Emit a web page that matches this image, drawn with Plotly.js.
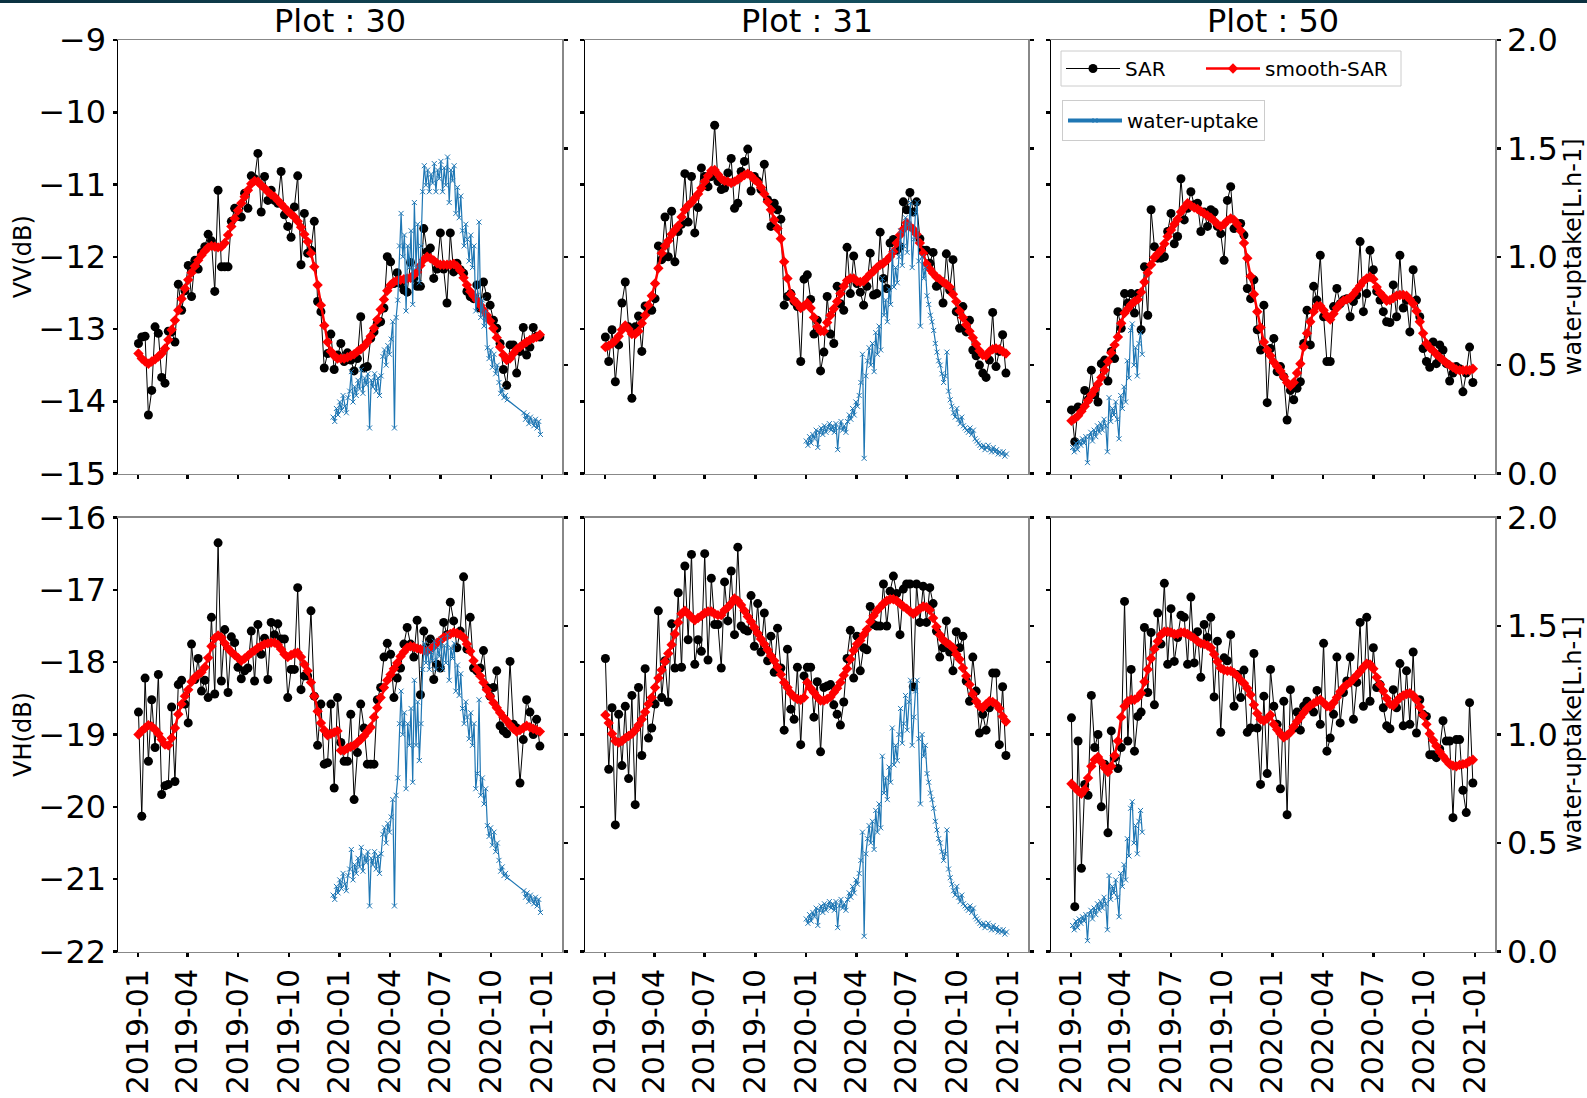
<!DOCTYPE html>
<html><head><meta charset="utf-8">
<script src="https://cdn.plot.ly/plotly-3.0.1.min.js"></script>
<style>
html,body{margin:0;padding:0;background:#fff;}
#topbar{position:absolute;left:0;top:0;width:1587px;height:3px;background:linear-gradient(90deg,#0b3140,#15505f 50%,#0b3140);z-index:10;}
#chart{width:1587px;height:1098px;}
</style>
</head><body><div id="topbar"></div><div id="chart"></div>
<script>
// ---------------- data ----------------
const plotTitles = ["Plot : 30", "Plot : 31", "Plot : 50"];
const polTitles = ["VV(dB)", "VH(dB)"];
const wuTitle = "water-uptake[L.h-1]";
const xTickStart = "2019-01-01";

const sarDates = [
"2019-01-02","2019-01-08","2019-01-14","2019-01-20","2019-01-26","2019-02-01","2019-02-07","2019-02-13","2019-02-19","2019-02-25",
"2019-03-03","2019-03-09","2019-03-15","2019-03-21","2019-03-27","2019-04-02","2019-04-08","2019-04-14","2019-04-20","2019-04-26",
"2019-05-02","2019-05-08","2019-05-14","2019-05-20","2019-05-26","2019-06-01","2019-06-07","2019-06-13","2019-06-19","2019-06-25",
"2019-07-01","2019-07-07","2019-07-13","2019-07-19","2019-07-25","2019-07-31","2019-08-06","2019-08-12","2019-08-18","2019-08-24",
"2019-08-30","2019-09-05","2019-09-11","2019-09-17","2019-09-23","2019-09-29","2019-10-05","2019-10-11","2019-10-17","2019-10-23",
"2019-10-29","2019-11-04","2019-11-10","2019-11-16","2019-11-22","2019-11-28","2019-12-04","2019-12-10","2019-12-16","2019-12-22",
"2019-12-28","2020-01-03","2020-01-09","2020-01-15","2020-01-21","2020-01-27","2020-02-02","2020-02-08","2020-02-14","2020-02-20",
"2020-02-26","2020-03-03","2020-03-09","2020-03-15","2020-03-21","2020-03-27","2020-04-02","2020-04-08","2020-04-14","2020-04-20",
"2020-04-26","2020-05-02","2020-05-08","2020-05-14","2020-05-20","2020-05-26","2020-06-01","2020-06-07","2020-06-13","2020-06-19",
"2020-06-25","2020-07-01","2020-07-07","2020-07-13","2020-07-19","2020-07-25","2020-07-31","2020-08-06","2020-08-12","2020-08-18",
"2020-08-24","2020-08-30","2020-09-05","2020-09-11","2020-09-17","2020-09-23","2020-09-29","2020-10-05","2020-10-11","2020-10-17",
"2020-10-23","2020-10-29","2020-11-04","2020-11-10","2020-11-16","2020-11-22","2020-11-28","2020-12-04","2020-12-10","2020-12-16",
"2020-12-22","2020-12-28"];

// Plot 30
const vv30 = [
-13.20,-13.11,-13.10,-14.19,-13.85,-12.97,-13.06,-13.67,-13.75,-13.03,
-13.04,-13.18,-12.38,-12.74,-12.47,-12.12,-12.55,-12.05,-12.17,-11.94,
-11.86,-11.69,-11.78,-12.48,-11.08,-12.14,-12.14,-12.14,-11.51,-11.33,
-11.44,-11.45,-11.12,-11.33,-10.88,-10.92,-10.57,-11.38,-10.89,-11.22,
-11.08,-11.22,-11.26,-10.82,-11.42,-11.58,-11.73,-11.31,-10.88,-12.11,
-11.40,-11.95,-11.91,-11.51,-12.62,-12.76,-13.54,-13.34,-13.07,-13.56,
-13.36,-13.20,-13.45,-13.33,-13.43,-13.58,-13.41,-12.83,-13.54,-13.52,
-13.13,-13.04,-12.92,-12.90,-12.71,-12.00,-12.07,-12.37,-12.22,-12.37,
-12.46,-12.49,-12.08,-12.30,-12.41,-12.41,-11.61,-11.93,-11.88,-12.30,
-12.17,-11.67,-12.17,-12.64,-11.67,-12.21,-12.09,-12.18,-12.23,-12.48,
-12.55,-12.58,-12.39,-12.71,-12.35,-12.55,-12.67,-12.88,-12.99,-13.20,
-13.56,-13.78,-13.22,-13.22,-13.61,-13.31,-12.98,-13.36,-13.25,-12.98,
-13.10,-13.11];
const vv30s = [
-13.34,-13.41,-13.45,-13.48,-13.45,-13.42,-13.38,-13.34,-13.27,-13.15,
-13.01,-12.88,-12.74,-12.58,-12.44,-12.32,-12.22,-12.13,-12.05,-11.98,
-11.92,-11.87,-11.85,-11.86,-11.87,-11.86,-11.81,-11.70,-11.58,-11.47,
-11.36,-11.26,-11.17,-11.08,-10.99,-10.95,-10.96,-11.01,-11.05,-11.10,
-11.14,-11.17,-11.22,-11.27,-11.32,-11.37,-11.41,-11.45,-11.51,-11.59,
-11.69,-11.79,-11.95,-12.14,-12.39,-12.67,-12.95,-13.18,-13.31,-13.37,
-13.41,-13.41,-13.41,-13.39,-13.37,-13.35,-13.31,-13.28,-13.24,-13.18,
-13.10,-12.99,-12.87,-12.73,-12.59,-12.47,-12.39,-12.35,-12.33,-12.32,
-12.31,-12.30,-12.29,-12.25,-12.21,-12.12,-12.04,-12.00,-12.02,-12.05,
-12.09,-12.11,-12.11,-12.11,-12.11,-12.10,-12.13,-12.19,-12.29,-12.39,
-12.48,-12.54,-12.60,-12.67,-12.74,-12.81,-12.89,-12.99,-13.12,-13.25,
-13.36,-13.43,-13.41,-13.34,-13.28,-13.25,-13.21,-13.18,-13.15,-13.13,
-13.11,-13.08];
const vh30 = [
-18.69,-20.13,-18.22,-19.37,-18.52,-19.18,-18.17,-19.83,-19.71,-19.69,
-18.62,-19.65,-18.31,-18.25,-18.58,-18.84,-17.75,-18.24,-17.95,-18.40,
-18.25,-18.49,-17.38,-18.44,-16.35,-18.26,-17.55,-18.42,-17.65,-17.73,
-18.07,-18.23,-18.12,-18.08,-17.57,-18.26,-17.48,-17.89,-17.67,-18.24,
-17.45,-17.62,-17.47,-17.68,-17.68,-18.49,-18.10,-18.10,-16.97,-18.38,
-18.19,-18.19,-17.29,-18.47,-19.15,-18.58,-19.41,-19.39,-18.58,-19.74,
-18.49,-19.11,-19.37,-19.37,-18.72,-19.90,-19.25,-18.58,-18.91,-19.41,
-19.41,-19.41,-18.52,-18.35,-17.93,-17.74,-17.89,-18.49,-18.22,-18.08,
-17.75,-17.52,-17.75,-17.93,-17.42,-18.45,-17.57,-17.80,-17.68,-18.24,
-18.03,-18.08,-17.45,-17.62,-17.17,-17.43,-17.80,-17.57,-16.82,-17.82,
-17.38,-18.08,-18.12,-18.08,-17.84,-18.35,-18.47,-18.35,-18.12,-18.88,
-18.95,-18.99,-17.99,-18.86,-18.91,-19.67,-19.07,-18.52,-18.69,-19.00,
-18.79,-19.16];
const vh30s = [
-19.00,-18.95,-18.91,-18.87,-18.89,-18.93,-18.99,-19.07,-19.14,-19.15,
-19.05,-18.91,-18.72,-18.58,-18.47,-18.38,-18.27,-18.21,-18.17,-18.14,
-18.07,-17.94,-17.78,-17.67,-17.63,-17.66,-17.74,-17.81,-17.86,-17.90,
-17.94,-17.98,-17.95,-17.91,-17.87,-17.84,-17.80,-17.78,-17.75,-17.74,
-17.73,-17.73,-17.76,-17.82,-17.89,-17.93,-17.90,-17.88,-17.87,-17.93,
-18.03,-18.12,-18.28,-18.47,-18.68,-18.84,-18.94,-19.01,-18.99,-18.97,
-18.95,-19.22,-19.22,-19.19,-19.17,-19.15,-19.11,-19.07,-19.02,-18.96,
-18.90,-18.76,-18.63,-18.49,-18.35,-18.25,-18.17,-18.09,-18.01,-17.92,
-17.86,-17.80,-17.78,-17.79,-17.81,-17.82,-17.84,-17.85,-17.82,-17.78,
-17.73,-17.70,-17.66,-17.64,-17.61,-17.59,-17.60,-17.62,-17.66,-17.75,
-17.85,-17.98,-18.10,-18.19,-18.28,-18.38,-18.47,-18.56,-18.63,-18.70,
-18.76,-18.81,-18.87,-18.92,-18.96,-18.94,-18.91,-18.88,-18.90,-18.92,
-18.94,-18.96];

// Plot 31
const vv31 = [
-13.11,-13.45,-13.01,-13.73,-13.22,-12.64,-12.35,-12.97,-13.96,-12.97,
-12.82,-13.31,-12.68,-12.74,-12.74,-12.58,-11.85,-12.04,-11.45,-12.00,
-11.37,-12.07,-11.65,-11.55,-10.85,-11.52,-10.89,-11.67,-11.32,-10.77,
-10.89,-11.03,-10.89,-10.18,-10.96,-11.07,-11.05,-10.84,-10.64,-11.33,
-11.26,-10.82,-10.68,-10.51,-11.09,-10.89,-10.95,-11.07,-10.72,-11.21,
-11.58,-11.26,-11.35,-11.48,-12.67,-12.55,-12.51,-12.62,-12.69,-13.45,
-12.31,-12.25,-12.59,-13.07,-12.88,-13.58,-13.32,-12.55,-13.07,-13.20,
-12.41,-12.65,-12.74,-11.87,-12.51,-11.99,-12.37,-12.49,-12.67,-12.41,
-11.95,-12.53,-12.51,-11.66,-12.30,-12.44,-11.81,-11.76,-11.91,-11.86,
-11.24,-11.35,-11.11,-11.38,-11.24,-11.75,-11.91,-11.91,-12.09,-11.94,
-12.41,-12.37,-12.64,-11.96,-12.46,-12.04,-12.76,-12.99,-12.69,-13.04,
-12.88,-13.29,-13.37,-13.50,-13.61,-13.67,-13.43,-12.77,-13.52,-13.31,
-13.08,-13.61];
const vv31s = [
-13.25,-13.23,-13.20,-13.16,-13.10,-13.01,-12.95,-13.00,-13.07,-13.07,
-13.03,-12.92,-12.81,-12.67,-12.54,-12.37,-12.16,-11.95,-11.85,-11.78,
-11.69,-11.63,-11.57,-11.45,-11.35,-11.29,-11.25,-11.19,-11.13,-11.05,
-10.96,-10.88,-10.81,-10.80,-10.86,-10.92,-10.95,-10.96,-10.98,-10.96,
-10.93,-10.90,-10.87,-10.85,-10.88,-10.93,-10.97,-11.04,-11.13,-11.24,
-11.35,-11.49,-11.61,-11.75,-12.07,-12.30,-12.52,-12.61,-12.65,-12.71,
-12.68,-12.64,-12.71,-12.84,-12.97,-13.03,-13.03,-12.91,-12.81,-12.72,
-12.62,-12.51,-12.41,-12.33,-12.30,-12.30,-12.34,-12.35,-12.34,-12.29,
-12.24,-12.20,-12.15,-12.11,-12.09,-12.05,-12.00,-11.93,-11.81,-11.70,
-11.62,-11.53,-11.58,-11.62,-11.69,-11.81,-11.95,-12.10,-12.17,-12.23,
-12.28,-12.31,-12.35,-12.38,-12.42,-12.52,-12.62,-12.75,-12.84,-12.94,
-13.03,-13.12,-13.21,-13.30,-13.36,-13.37,-13.31,-13.28,-13.27,-13.28,
-13.31,-13.34];
const vh31 = [
-17.95,-19.48,-18.63,-20.25,-18.72,-19.43,-18.61,-19.61,-18.46,-19.97,
-18.35,-19.29,-18.09,-19.05,-18.91,-18.58,-17.29,-18.49,-17.98,-18.55,
-17.47,-18.08,-17.04,-18.07,-16.67,-17.69,-16.51,-18.03,-17.69,-17.85,
-16.50,-17.97,-16.84,-17.48,-17.48,-18.08,-16.89,-17.43,-16.74,-17.62,
-16.41,-17.50,-17.55,-17.57,-17.08,-17.78,-17.19,-17.86,-17.32,-17.98,
-17.64,-18.14,-17.53,-18.08,-18.94,-17.82,-18.65,-18.79,-18.07,-19.14,
-18.19,-18.07,-18.07,-18.76,-18.27,-19.24,-18.35,-18.33,-18.31,-18.59,
-18.72,-18.87,-18.55,-17.95,-17.56,-18.22,-17.64,-18.12,-17.80,-17.83,
-17.23,-17.48,-17.50,-17.50,-16.92,-17.50,-17.02,-16.81,-17.05,-17.62,
-16.99,-16.92,-16.92,-18.34,-16.92,-17.45,-16.95,-17.45,-16.97,-17.19,
-17.57,-17.93,-17.80,-17.43,-17.86,-18.12,-17.58,-17.80,-17.64,-18.26,
-18.54,-17.93,-18.40,-18.98,-18.72,-18.94,-18.63,-18.15,-18.15,-19.14,
-18.34,-19.29];
const vh31s = [
-18.73,-18.84,-18.99,-19.09,-19.11,-19.09,-19.05,-19.02,-18.99,-18.94,
-18.87,-18.79,-18.69,-18.58,-18.49,-18.35,-18.22,-18.11,-17.99,-17.88,
-17.76,-17.61,-17.45,-17.33,-17.29,-17.33,-17.38,-17.42,-17.39,-17.36,
-17.32,-17.30,-17.30,-17.33,-17.35,-17.35,-17.28,-17.24,-17.19,-17.12,
-17.15,-17.21,-17.29,-17.37,-17.44,-17.52,-17.60,-17.68,-17.75,-17.83,
-17.91,-17.98,-18.07,-18.17,-18.28,-18.35,-18.43,-18.48,-18.51,-18.52,
-18.49,-18.28,-18.36,-18.42,-18.48,-18.53,-18.53,-18.51,-18.48,-18.42,
-18.36,-18.28,-18.18,-18.09,-17.96,-17.84,-17.75,-17.70,-17.62,-17.55,
-17.44,-17.36,-17.29,-17.24,-17.19,-17.15,-17.13,-17.13,-17.15,-17.19,
-17.23,-17.26,-17.30,-17.33,-17.30,-17.26,-17.23,-17.24,-17.28,-17.39,
-17.51,-17.62,-17.69,-17.73,-17.76,-17.80,-17.89,-17.96,-18.08,-18.19,
-18.31,-18.44,-18.54,-18.61,-18.63,-18.58,-18.54,-18.55,-18.58,-18.64,
-18.75,-18.82];

// Plot 50
const vv50 = [
-14.12,-14.56,-14.08,-14.10,-13.85,-13.98,-13.57,-13.91,-14.01,-13.48,
-13.43,-13.72,-13.31,-13.41,-12.76,-12.99,-12.51,-12.64,-12.51,-12.78,
-12.51,-13.01,-12.14,-12.81,-11.35,-11.86,-12.02,-12.02,-12.00,-11.65,
-11.40,-11.82,-11.72,-10.92,-11.49,-11.33,-11.10,-11.28,-11.26,-11.65,
-11.38,-11.58,-11.35,-11.38,-11.58,-11.68,-12.05,-11.22,-11.03,-11.61,
-11.54,-11.54,-11.70,-12.44,-12.58,-12.32,-13.01,-13.29,-12.67,-14.02,
-13.27,-13.13,-13.59,-13.52,-13.66,-14.26,-13.85,-13.98,-13.82,-13.73,
-13.20,-12.74,-13.22,-12.41,-12.60,-11.98,-12.83,-13.45,-13.45,-12.69,
-12.44,-12.65,-12.60,-12.58,-12.83,-12.62,-12.53,-11.79,-12.76,-12.51,
-11.91,-12.18,-12.48,-12.60,-12.76,-12.90,-12.91,-12.39,-12.83,-11.98,
-12.71,-12.60,-13.04,-12.18,-12.60,-12.83,-13.27,-13.45,-13.53,-13.18,
-13.48,-13.22,-13.29,-13.48,-13.72,-13.61,-13.52,-13.55,-13.87,-13.61,
-13.25,-13.74];
const vv50s = [
-14.27,-14.24,-14.20,-14.14,-14.07,-13.99,-13.91,-13.84,-13.76,-13.67,
-13.57,-13.45,-13.33,-13.22,-13.11,-12.92,-12.78,-12.72,-12.66,-12.62,
-12.59,-12.49,-12.35,-12.22,-12.11,-12.01,-11.96,-11.91,-11.82,-11.72,
-11.63,-11.55,-11.48,-11.38,-11.32,-11.26,-11.29,-11.32,-11.34,-11.37,
-11.40,-11.43,-11.46,-11.50,-11.55,-11.58,-11.55,-11.50,-11.47,-11.49,
-11.55,-11.64,-11.81,-12.02,-12.27,-12.52,-12.76,-12.98,-13.18,-13.29,
-13.37,-13.46,-13.52,-13.58,-13.66,-13.74,-13.79,-13.74,-13.61,-13.48,
-13.25,-13.06,-12.90,-12.76,-12.68,-12.68,-12.74,-12.82,-12.87,-12.79,
-12.71,-12.65,-12.61,-12.59,-12.57,-12.52,-12.46,-12.40,-12.34,-12.30,
-12.28,-12.31,-12.42,-12.50,-12.55,-12.61,-12.60,-12.57,-12.54,-12.53,
-12.53,-12.54,-12.59,-12.65,-12.75,-12.90,-13.06,-13.20,-13.26,-13.30,
-13.35,-13.39,-13.43,-13.47,-13.50,-13.53,-13.56,-13.57,-13.57,-13.57,
-13.57,-13.55];
const vh50 = [
-18.77,-21.38,-19.09,-20.85,-19.69,-19.84,-18.46,-19.18,-19.00,-20.00,
-19.41,-20.36,-18.95,-19.32,-19.47,-19.18,-17.16,-19.09,-18.10,-19.23,
-18.75,-18.69,-17.52,-18.42,-17.59,-18.59,-17.32,-17.75,-16.91,-18.03,
-17.26,-17.99,-17.66,-17.35,-17.38,-18.03,-17.10,-18.01,-17.58,-18.21,
-17.48,-17.66,-17.38,-18.48,-17.71,-18.97,-17.94,-17.98,-17.62,-18.61,
-18.17,-18.49,-18.11,-18.97,-18.91,-17.88,-18.91,-19.69,-18.47,-19.54,
-18.10,-18.61,-18.86,-19.75,-18.54,-20.11,-18.38,-18.91,-18.69,-18.94,
-18.61,-18.54,-18.63,-18.69,-18.39,-18.86,-17.74,-19.23,-19.05,-18.72,
-17.93,-18.84,-18.42,-18.26,-17.93,-18.79,-18.28,-17.45,-18.61,-17.38,
-18.54,-17.80,-18.35,-18.31,-18.63,-18.88,-18.92,-18.38,-18.63,-18.02,
-18.88,-18.12,-18.86,-17.86,-18.98,-18.52,-18.72,-18.75,-19.28,-19.28,
-19.32,-19.20,-18.81,-19.09,-19.09,-20.15,-19.07,-19.07,-19.77,-20.08,
-18.56,-19.67];
const vh50s = [
-19.68,-19.73,-19.78,-19.82,-19.76,-19.60,-19.44,-19.35,-19.31,-19.38,
-19.46,-19.52,-19.44,-19.29,-19.09,-18.76,-18.61,-18.54,-18.52,-18.52,
-18.49,-18.43,-18.27,-18.10,-17.95,-17.82,-17.71,-17.62,-17.58,-17.58,
-17.59,-17.61,-17.61,-17.59,-17.59,-17.61,-17.64,-17.67,-17.71,-17.74,
-17.75,-17.77,-17.80,-17.89,-17.99,-18.08,-18.11,-18.12,-18.12,-18.15,
-18.19,-18.25,-18.29,-18.36,-18.45,-18.59,-18.71,-18.79,-18.81,-18.78,
-18.73,-18.86,-18.93,-18.99,-19.04,-19.01,-18.97,-18.89,-18.82,-18.76,
-18.70,-18.64,-18.60,-18.57,-18.54,-18.52,-18.56,-18.61,-18.62,-18.56,
-18.49,-18.41,-18.35,-18.31,-18.28,-18.23,-18.18,-18.13,-18.07,-18.02,
-18.03,-18.09,-18.21,-18.31,-18.40,-18.50,-18.58,-18.60,-18.54,-18.49,
-18.46,-18.44,-18.43,-18.46,-18.52,-18.62,-18.73,-18.86,-18.99,-19.08,
-19.16,-19.24,-19.30,-19.36,-19.41,-19.43,-19.44,-19.42,-19.41,-19.40,
-19.37,-19.35];

// water uptake (L.h-1)
const wuDates2020 = [
"2020-01-01","2020-01-04","2020-01-07","2020-01-10","2020-01-13","2020-01-16","2020-01-19","2020-01-22","2020-01-25","2020-01-28",
"2020-01-31","2020-02-03","2020-02-06","2020-02-09","2020-02-12","2020-02-15","2020-02-18","2020-02-21","2020-02-24","2020-02-27",
"2020-03-01","2020-03-04","2020-03-07","2020-03-10","2020-03-13","2020-03-16","2020-03-19","2020-03-22","2020-03-25","2020-03-28",
"2020-03-31","2020-04-03","2020-04-06","2020-04-09","2020-04-12","2020-04-15","2020-04-18","2020-04-21","2020-04-24","2020-04-27",
"2020-04-30","2020-05-03","2020-05-06","2020-05-09","2020-05-12","2020-05-15","2020-05-18","2020-05-21","2020-05-24","2020-05-27",
"2020-05-30","2020-06-02","2020-06-05","2020-06-08","2020-06-11","2020-06-14","2020-06-17","2020-06-20","2020-06-23","2020-06-26",
"2020-06-29","2020-07-02","2020-07-05","2020-07-08","2020-07-11","2020-07-14","2020-07-17","2020-07-20","2020-07-23","2020-07-26",
"2020-07-29","2020-08-01","2020-08-04","2020-08-07","2020-08-10","2020-08-13","2020-08-16","2020-08-19","2020-08-22","2020-08-25",
"2020-08-28","2020-08-31","2020-09-03","2020-09-06","2020-09-09","2020-09-12","2020-09-15","2020-09-18","2020-09-21","2020-09-24",
"2020-09-27","2020-09-30","2020-10-03","2020-10-06","2020-10-09","2020-10-12","2020-10-15","2020-10-18","2020-10-21","2020-10-24",
"2020-10-27","2020-10-30","2020-11-02","2020-11-05","2020-11-08","2020-11-11","2020-11-14","2020-11-17","2020-11-20","2020-11-23",
"2020-11-26","2020-11-29","2020-12-02","2020-12-05","2020-12-08","2020-12-11","2020-12-14","2020-12-17","2020-12-20","2020-12-23",
"2020-12-26","2020-12-29"];
const wuDatesPre30 = ["2019-12-20","2019-12-23","2019-12-26","2019-12-29"];
const wuDates50 = [
"2019-01-04","2019-01-07","2019-01-10","2019-01-13","2019-01-16","2019-01-19","2019-01-22","2019-01-25","2019-01-28","2019-01-31",
"2019-02-03","2019-02-06","2019-02-09","2019-02-12","2019-02-15","2019-02-18","2019-02-21","2019-02-24","2019-02-27","2019-03-02",
"2019-03-05","2019-03-08","2019-03-11","2019-03-14","2019-03-17","2019-03-20","2019-03-23","2019-03-26","2019-03-29","2019-04-01",
"2019-04-04","2019-04-07","2019-04-10","2019-04-13","2019-04-16","2019-04-19","2019-04-22","2019-04-25","2019-04-28","2019-05-01",
"2019-05-04","2019-05-07","2019-05-10"];
// plot 30 logger has no data between 2020-10-30 and 2020-11-29
const wuDates30 = wuDatesPre30.concat(wuDates2020.slice(0, 102), wuDates2020.slice(111));
const wuDates31 = wuDates2020;

const wu30 = [
0.26,0.24,0.30,0.27,0.33,0.29,0.36,0.31,0.28,0.35,
0.38,0.47,0.33,0.40,0.36,0.43,0.39,0.48,0.37,0.44,
0.41,0.46,0.21,0.43,0.40,0.46,0.38,0.44,0.36,0.45,
0.54,0.57,0.50,0.59,0.55,0.62,0.70,0.21,0.72,0.80,
1.05,1.20,1.00,1.10,0.75,1.05,0.95,1.12,0.78,1.25,
0.95,1.15,0.88,1.05,1.30,1.42,1.33,1.40,1.30,1.38,
1.34,1.43,1.30,1.40,1.36,1.44,1.30,1.41,1.33,1.46,
1.25,1.40,1.35,1.42,1.20,1.32,1.18,1.28,1.12,1.05,
1.15,1.08,0.98,1.10,0.95,1.05,0.75,0.82,1.16,0.72,
0.80,0.68,0.75,0.58,0.53,0.57,0.49,0.55,0.46,0.50,
0.42,0.37,0.39,0.35,0.36,0.34,
0.28,0.25,0.27,0.23,0.26,0.24,0.22,0.25,0.21,0.24,0.18];
const wu31 = [
0.15,0.13,0.17,0.14,0.18,0.16,0.20,0.12,0.19,0.21,
0.18,0.22,0.19,0.21,0.23,0.20,0.22,0.19,0.23,0.11,
0.21,0.24,0.20,0.22,0.19,0.24,0.27,0.25,0.30,0.27,
0.33,0.31,0.36,0.42,0.55,0.07,0.45,0.52,0.58,0.50,
0.60,0.47,0.65,0.55,0.68,0.57,0.90,0.73,0.80,0.70,
0.85,0.78,1.03,0.86,0.95,0.88,1.00,1.12,0.96,1.05,
1.18,1.02,1.15,1.25,0.95,1.08,1.20,1.25,0.98,0.68,
1.00,0.90,0.95,0.82,0.78,0.73,0.70,0.66,0.60,0.56,
0.52,0.50,0.46,0.42,0.45,0.56,0.38,0.34,0.31,0.28,
0.26,0.30,0.25,0.23,0.26,0.22,0.21,0.20,0.19,0.21,
0.18,0.20,0.16,0.15,0.14,0.13,0.12,0.13,0.11,0.12,
0.13,0.11,0.10,0.12,0.10,0.11,0.09,0.10,0.09,0.10,
0.08,0.09];
const wu50 = [
0.12,0.10,0.14,0.11,0.15,0.13,0.16,0.14,0.17,0.05,
0.17,0.19,0.15,0.20,0.17,0.22,0.19,0.23,0.20,0.25,
0.22,0.10,0.35,0.24,0.30,0.27,0.33,0.25,0.16,0.36,
0.30,0.40,0.33,0.52,0.44,0.66,0.69,0.50,0.58,0.45,
0.60,0.65,0.55];

// ---------------- chart ----------------
const FONT = "DejaVu Sans, Verdana, sans-serif";
const W = 1587, H = 1098;
const colPx = [[118, 562], [585, 1028], [1051, 1495]];
const rowPx = [[40, 473.5], [517.5, 951.5]];
const xRange = ["2018-11-26", "2021-02-06"];
const yRanges = [[-15, -9], [-22, -16]];

const panels = [
  {sar: vv30, sm: vv30s, wx: wuDates30, wy: wu30},
  {sar: vv31, sm: vv31s, wx: wuDates31, wy: wu31},
  {sar: vv50, sm: vv50s, wx: wuDates50, wy: wu50},
  {sar: vh30, sm: vh30s, wx: wuDates30, wy: wu30},
  {sar: vh31, sm: vh31s, wx: wuDates31, wy: wu31},
  {sar: vh50, sm: vh50s, wx: wuDates50, wy: wu50}
];

const traces = [];
const legendBase = {
  xanchor: "left", yanchor: "top", orientation: "h",
  font: {family: FONT, size: 20, color: "#000"}, itemwidth: 54
};
const layout = {
  width: W, height: H,
  margin: {l: 0, r: 0, t: 0, b: 0},
  paper_bgcolor: "#fff", plot_bgcolor: "#fff",
  font: {family: FONT, color: "#000", size: 22},
  showlegend: true,
  // first legend frame (SAR + smooth-SAR share one box)
  legend: Object.assign({x: 1061 / W, y: 1 - 49 / H, bgcolor: "rgba(0,0,0,0)", borderwidth: 0}, legendBase),
  legend3: Object.assign({x: 1201 / W, y: 1 - 49 / H, bgcolor: "rgba(0,0,0,0)", borderwidth: 0}, legendBase),
  legend2: Object.assign({x: 1062 / W, y: 1 - 100 / H, bgcolor: "rgba(255,255,255,0.85)",
                          bordercolor: "#cccccc", borderwidth: 1}, legendBase),
  shapes: [{
    type: "rect", xref: "paper", yref: "paper", layer: "above",
    x0: 1061 / W, x1: 1401 / W, y0: 1 - 86 / H, y1: 1 - 51 / H,
    line: {color: "#cccccc", width: 1}, fillcolor: "rgba(255,255,255,0.85)"
  }],
  annotations: []
};

panels.forEach((p, i) => {
  const row = Math.floor(i / 3), col = i % 3;
  const xid = i === 0 ? "x" : "x" + (i + 1);
  const yL = i === 0 ? "y" : "y" + (i + 1);
  const yR = "y" + (i + 7);
  const xKey = i === 0 ? "xaxis" : "xaxis" + (i + 1);
  const yLKey = i === 0 ? "yaxis" : "yaxis" + (i + 1);
  const yRKey = "yaxis" + (i + 7);
  const xd = [colPx[col][0] / W, colPx[col][1] / W];
  const yd = [1 - rowPx[row][1] / H, 1 - rowPx[row][0] / H];
  const showLeg = (i === 2);

  traces.push({
    type: "scatter", mode: "lines+markers", name: "SAR",
    x: sarDates, y: p.sar, xaxis: xid, yaxis: yL,
    line: {color: "#000", width: 1},
    marker: {color: "#000", size: 9, symbol: "circle"},
    showlegend: showLeg, legend: "legend"
  });
  traces.push({
    type: "scatter", mode: "lines+markers", name: "smooth-SAR",
    x: sarDates, y: p.sm, xaxis: xid, yaxis: yL,
    line: {color: "#ff0000", width: 2.5},
    marker: {color: "#ff0000", size: 8, symbol: "diamond"},
    showlegend: showLeg, legend: "legend3"
  });
  traces.push({
    type: "scatter", mode: "lines+markers", name: "water-uptake",
    x: p.wx, y: p.wy, xaxis: xid, yaxis: yR,
    line: {color: "#1f77b4", width: 1.2},
    marker: {color: "#1f77b4", size: 5, symbol: "x-thin", line: {color: "#1f77b4", width: 1}},
    showlegend: false
  });
  if (showLeg) {
    traces.push({
      type: "scatter", mode: "lines+markers", name: "water-uptake",
      x: [null], y: [null], xaxis: xid, yaxis: yR,
      line: {color: "#1f77b4", width: 4},
      marker: {color: "#1f77b4", size: 5, symbol: "x-thin", line: {color: "#1f77b4", width: 1}},
      showlegend: true, legend: "legend2"
    });
  }

  layout[xKey] = {
    domain: xd, anchor: yL, type: "date", range: xRange,
    tick0: xTickStart, dtick: "M3", tickformat: "%Y-%m",
    ticks: "outside", ticklen: 4, tickwidth: 2.5, tickcolor: "#000",
    showticklabels: row === 1, tickangle: -90,
    tickfont: {family: FONT, size: 30, color: "#000"},
    showline: true, linecolor: "#888", linewidth: 1.5, mirror: true,
    showgrid: false, zeroline: false, fixedrange: true
  };
  layout[yLKey] = {
    domain: yd, anchor: xid, range: yRanges[row], dtick: 1, tick0: 0,
    ticks: "outside", ticklen: 4, tickwidth: 2.5, tickcolor: "#000",
    showticklabels: col === 0,
    tickfont: {family: FONT, size: 32, color: "#000"},
    showline: true, linecolor: "#000", linewidth: 1.5,
    showgrid: false, zeroline: false, fixedrange: true,
    title: col === 0 ? {text: polTitles[row], font: {family: FONT, size: 24, color: "#000"}, standoff: 0} : undefined
  };
  layout[yRKey] = {
    overlaying: yL, anchor: xid, side: "right", range: [0, 2], dtick: 0.5, tick0: 0, tickformat: ".1f",
    ticks: "outside", ticklen: 4, tickwidth: 2.5, tickcolor: "#000",
    showticklabels: col === 2,
    tickfont: {family: FONT, size: 32, color: "#000"},
    showline: true, linecolor: "#888", linewidth: 1.5,
    showgrid: false, zeroline: false, fixedrange: true,
    title: col === 2 ? {text: wuTitle, font: {family: FONT, size: 24, color: "#000"}, standoff: 8} : undefined
  };

  if (row === 0) {
    layout.annotations.push({
      text: plotTitles[col], xref: "paper", yref: "paper",
      x: (xd[0] + xd[1]) / 2, y: 1 - 21 / H, xanchor: "center", yanchor: "middle",
      showarrow: false, font: {family: FONT, size: 32, color: "#000"}
    });
  }
});

Plotly.newPlot("chart", traces, layout, {staticPlot: true, displayModeBar: false});
</script>
</body></html>
